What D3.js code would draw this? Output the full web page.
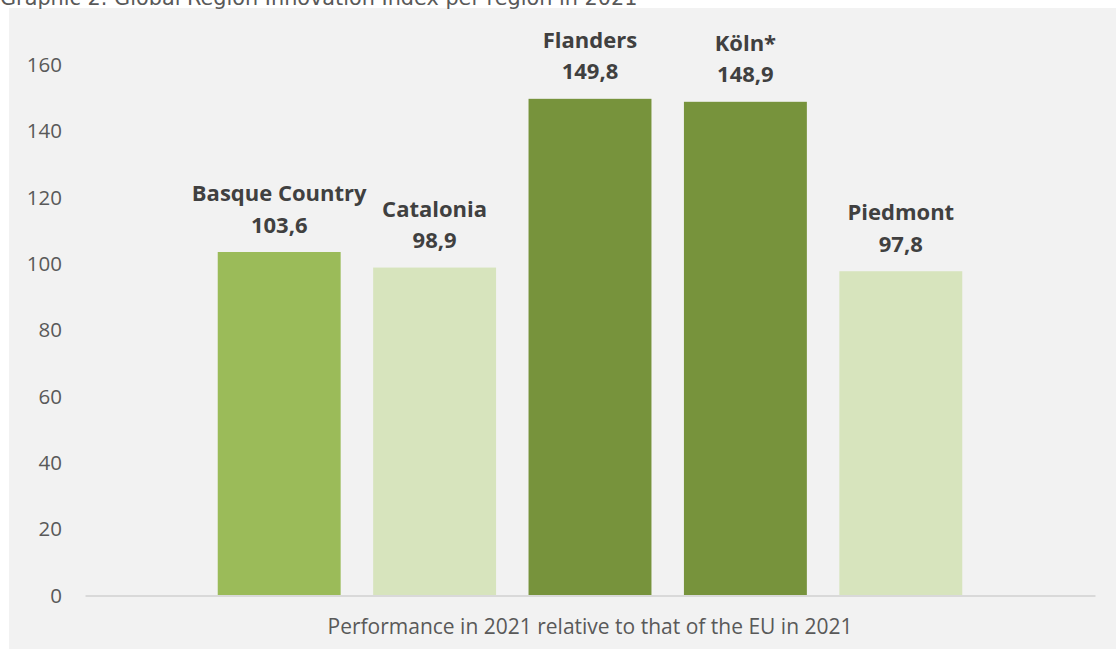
<!DOCTYPE html>
<html>
<head>
<meta charset="utf-8">
<script src="https://cdn.jsdelivr.net/npm/d3@7"></script>
<style>
  html, body { margin: 0; padding: 0; background: #ffffff; }
  svg { display: block; }
</style>
</head>
<body>
<svg id="chart" width="1116" height="650"></svg>
<script>
// Global Region Innovation Index, 2021 (EU 2021 = 100)
const regions = ["Basque Country", "Catalonia", "Flanders", "Köln*", "Piedmont"];
const values = [103.6, 98.9, 149.8, 148.9, 97.8];
const valueLabels = ["103,6", "98,9", "149,8", "148,9", "97,8"];
const barColors = ["#9bbb59", "#d7e4bd", "#77933c", "#77933c", "#d7e4bd"];
const yTicks = [0, 20, 40, 60, 80, 100, 120, 140, 160];
const categoryLabel = "Performance in 2021 relative to that of the EU in 2021";
const titleText = "Graphic 2. Global Region Innovation Index per region in 2021";

const svg = d3.select("#chart");
const font = "'Open Sans', 'Noto Sans', sans-serif";

// chart panel
svg.append("rect")
  .attr("x", 9).attr("y", 8)
  .attr("width", 1116 - 9).attr("height", 649 - 8)
  .attr("fill", "#f2f2f2");

// title (sits above the panel)
svg.append("text")
  .attr("x", 0).attr("y", 5)
  .attr("font-family", "'DejaVu Sans', Verdana, sans-serif").attr("font-size", 20.8)
  .attr("fill", "#595959")
  .text(titleText);

const y = d3.scaleLinear().domain([0, 160]).range([595.5, 65]);

// single category band, with the region bars clustered inside it
const xCat = d3.scaleBand().domain([categoryLabel]).range([85, 1095]);
const catCenter = xCat(categoryLabel) + xCat.bandwidth() / 2;
const xReg = d3.scaleBand()
  .domain(regions)
  .range([catCenter - 388.5, catCenter + 388.5])
  .paddingInner(0.209)
  .paddingOuter(0.1045);

// value axis labels (no line, no ticks)
const yAxis = d3.axisLeft(y).tickValues(yTicks).tickSize(0).tickPadding(0);
const gy = svg.append("g").attr("transform", "translate(62,0)").call(yAxis);
gy.select(".domain").remove();
gy.selectAll("text")
  .attr("font-family", font).attr("font-size", 20.5)
  .attr("fill", "#595959");

// bars
svg.append("g").selectAll("rect")
  .data(regions)
  .join("rect")
  .attr("x", d => xReg(d))
  .attr("y", (d, i) => y(values[i]))
  .attr("width", xReg.bandwidth())
  .attr("height", (d, i) => y(0) - y(values[i]))
  .attr("fill", (d, i) => barColors[i]);

// category axis line and label
const xAxis = d3.axisBottom(xCat).tickSize(0).tickPadding(24);
const gx = svg.append("g").attr("transform", `translate(0,${y(0)})`).call(xAxis);
gx.select(".domain").attr("stroke", "#d9d9d9").attr("stroke-width", 2);
gx.selectAll("text")
  .attr("font-family", font).attr("font-size", 21)
  .attr("fill", "#595959");

// data labels: region name over value
const labels = svg.append("g").selectAll("text")
  .data(regions)
  .join("text")
  .attr("text-anchor", "middle")
  .attr("font-family", font).attr("font-size", 22)
  .attr("font-weight", "bold")
  .attr("fill", "#404040");
labels.append("tspan")
  .attr("x", d => xReg(d) + xReg.bandwidth() / 2)
  .attr("y", (d, i) => y(values[i]) - 51)
  .text(d => d);
labels.append("tspan")
  .attr("x", d => xReg(d) + xReg.bandwidth() / 2)
  .attr("y", (d, i) => y(values[i]) - 19.5)
  .text((d, i) => valueLabels[i]);
</script>
</body>
</html>
